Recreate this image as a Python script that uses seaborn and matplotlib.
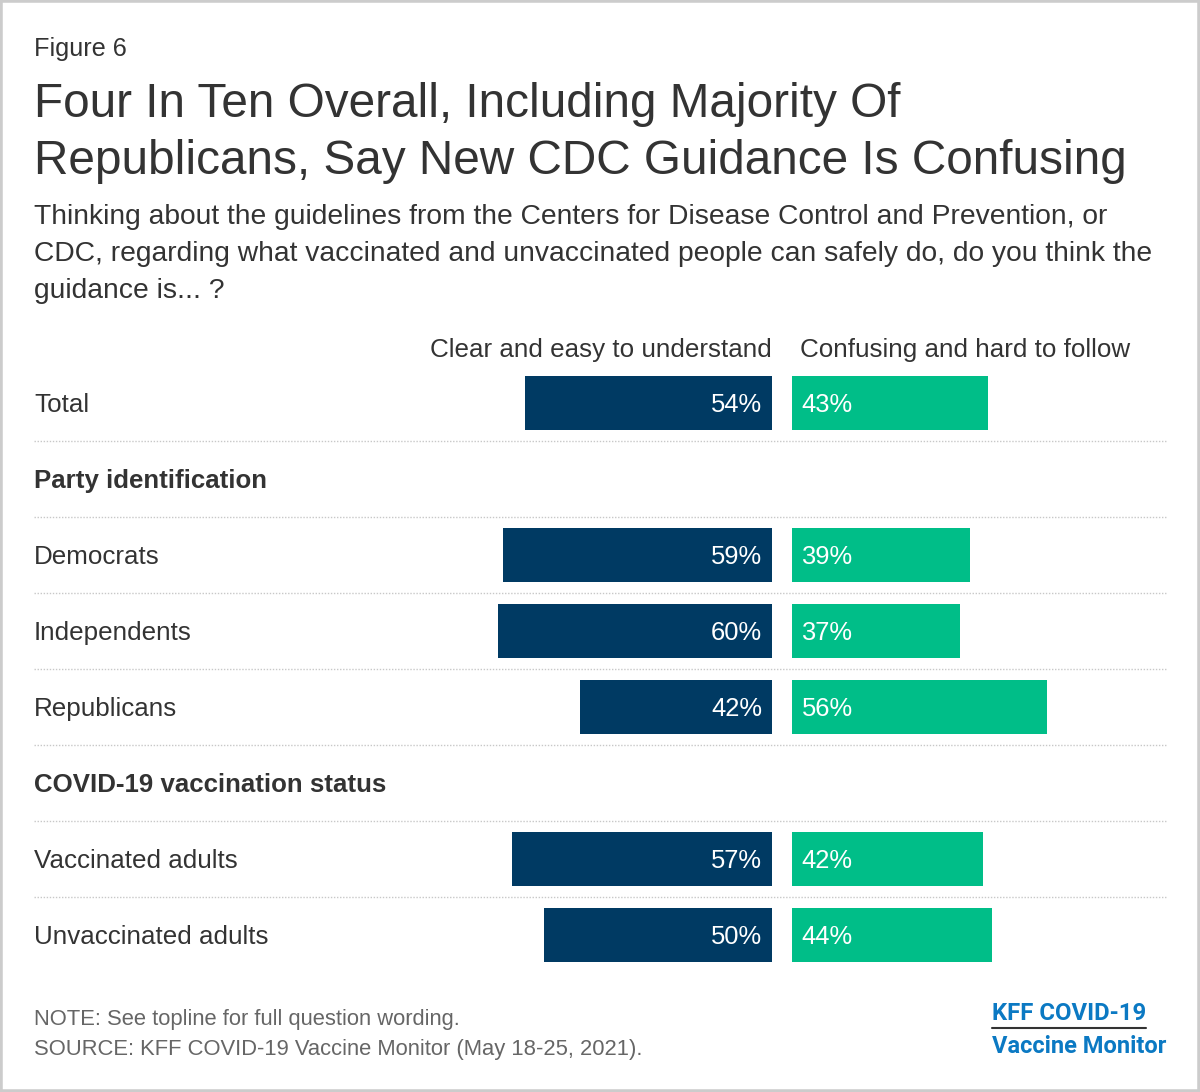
import matplotlib
matplotlib.use("Agg")
import matplotlib.pyplot as plt
import matplotlib.transforms as mtransforms
from matplotlib.patches import Rectangle
from matplotlib.lines import Line2D
import seaborn as sns
import pandas as pd

# ---------------- data ----------------
rows = ["Total", "Party identification", "Democrats", "Independents", "Republicans",
        "COVID-19 vaccination status", "Vaccinated adults", "Unvaccinated adults"]
headers = ["Party identification", "COVID-19 vaccination status"]
groups = ["Total", "Democrats", "Independents", "Republicans",
          "Vaccinated adults", "Unvaccinated adults"]
clear_vals = [54, 59, 60, 42, 57, 50]
confusing_vals = [43, 39, 37, 56, 42, 44]
series_names = ["Clear and easy to understand", "Confusing and hard to follow"]

title_lines = ["Four In Ten Overall, Including Majority Of",
               "Republicans, Say New CDC Guidance Is Confusing"]
subtitle_lines = ["Thinking about the guidelines from the Centers for Disease Control and Prevention, or",
                  "CDC, regarding what vaccinated and unvaccinated people can safely do, do you think the",
                  "guidance is... ?"]
note_text = "NOTE: See topline for full question wording."
source_text = "SOURCE: KFF COVID-19 Vaccine Monitor (May 18-25, 2021)."

NAVY = "#003A63"
GREEN = "#00BE88"
TXT = "#333333"
GRAY = "#666666"

sns.set_theme(style="white")
plt.rcParams["font.family"] = ["Liberation Sans", "DejaVu Sans"]

W, H = 1200, 1092
fig = plt.figure(figsize=(W / 100, H / 100), dpi=100)
fig.patch.set_facecolor("white")

def fx(px):
    return px / W

def fy(py):
    return 1 - py / H

PX_PER = 4.565  # pixels per percentage point
row0, rowstep = 403, 76
ytop = row0 - rowstep / 2
ybot = row0 + rowstep * (len(rows) - 1) + rowstep / 2

# left axes (clear) : right edge at 772 px
L_left, L_right = 30, 772
axL = fig.add_axes([fx(L_left), fy(ybot), fx(L_right - L_left), (ybot - ytop) / H])
R_left, R_right = 791.5, 1170
axR = fig.add_axes([fx(R_left), fy(ybot), fx(R_right - R_left), (ybot - ytop) / H])

df = pd.DataFrame({"group": groups, "clear": clear_vals, "confusing": confusing_vals})

sns.barplot(data=df, x="clear", y="group", order=rows, orient="h", ax=axL,
            color=NAVY, saturation=1, width=54 / 76, errorbar=None, linewidth=0)
sns.barplot(data=df, x="confusing", y="group", order=rows, orient="h", ax=axR,
            color=GREEN, saturation=1, width=54 / 76, errorbar=None, linewidth=0)

axL.set_xlim((L_right - L_left) / PX_PER, 0)
axR.set_xlim(0, (R_right - R_left) / PX_PER)
for ax in (axL, axR):
    ax.set_ylim(len(rows) - 0.5, -0.5)
    ax.axis("off")

# value labels
pad = 10 / PX_PER
lab_size = 18.7
val_size = 18.4
for g, c, f in zip(groups, clear_vals, confusing_vals):
    i = rows.index(g)
    axL.text(pad, i + 0.118, f"{c}%", ha="right", va="baseline", color="white", fontsize=val_size)
    axR.text(pad, i + 0.118, f"{f}%", ha="left", va="baseline", color="white", fontsize=val_size)

# series headers
axL.text(0, -0.6, series_names[0], ha="right", va="baseline", color=TXT, fontsize=lab_size)
axR.text(8.5 / PX_PER, -0.6, series_names[1], ha="left", va="baseline", color=TXT, fontsize=lab_size)

# row labels + separators
blend = mtransforms.blended_transform_factory(fig.transFigure, axL.transData)
for i, r in enumerate(rows):
    bold = r in headers
    axL.text(fx(34), i + 0.118, r, transform=blend, ha="left", va="baseline", color=TXT,
             fontsize=lab_size - (0.1 if bold else 0), fontweight="bold" if bold else "normal",
             clip_on=False)
for i in range(len(rows) - 1):
    ln = Line2D([fx(34), fx(1166)], [i + 0.5, i + 0.5], transform=blend, color="#c8c8c8",
                linewidth=1.0, linestyle=(0, (1, 1.2)), clip_on=False)
    axL.add_line(ln)

# figure texts
fig.text(fx(34), fy(56), "Figure 6", ha="left", va="baseline", color=TXT, fontsize=18.2)
fig.text(fx(34), fy(117), title_lines[0], ha="left", va="baseline", color=TXT, fontsize=34.4)
fig.text(fx(34), fy(174), title_lines[1], ha="left", va="baseline", color=TXT, fontsize=34.4)
for k, s in enumerate(subtitle_lines):
    fig.text(fx(34), fy(224 + 37 * k), s, ha="left", va="baseline", color=TXT, fontsize=20.3)

fig.text(fx(34), fy(1025), note_text, ha="left", va="baseline", color=GRAY, fontsize=15.8)
fig.text(fx(34), fy(1055), source_text, ha="left", va="baseline", color=GRAY, fontsize=15.8)

# KFF logo text
LOGO = "#0B79C3"
fig.text(fx(992), fy(1020), "KFF COVID-19", ha="left", va="baseline", color=LOGO,
         fontsize=17.2, fontweight="bold", family=["Roboto", "DejaVu Sans"])
fig.text(fx(992), fy(1053), "Vaccine Monitor", ha="left", va="baseline", color=LOGO,
         fontsize=17.0, fontweight="bold", family=["Roboto", "DejaVu Sans"])
fig.add_artist(Line2D([fx(992), fx(1146)], [fy(1027.5), fy(1027.5)], transform=fig.transFigure,
                      color="#333333", linewidth=1.5))

# border
fig.add_artist(Rectangle((0, 0), 1, 1, transform=fig.transFigure, fill=False,
                         edgecolor="#cccccc", linewidth=4))

fig.savefig("out.png", dpi=100, facecolor="white")
